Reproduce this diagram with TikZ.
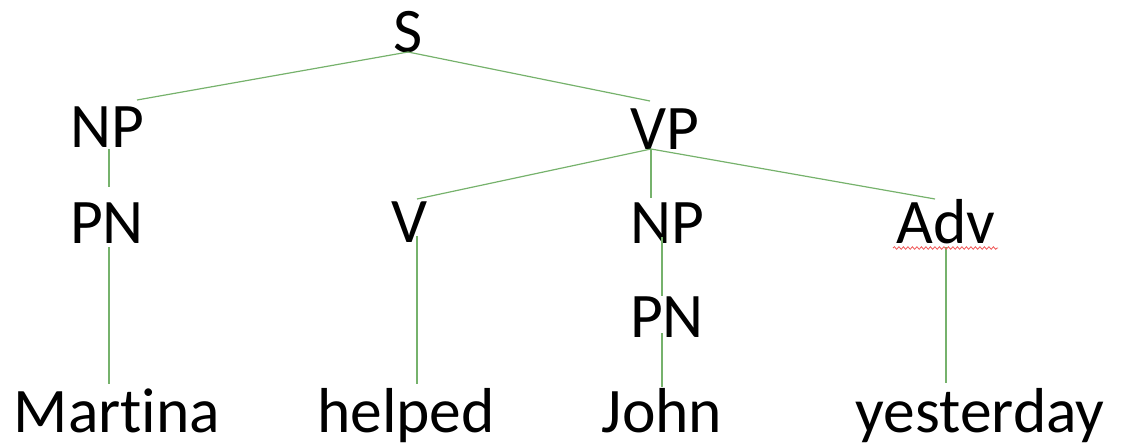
\documentclass[tikz,border=0pt]{standalone}
\usepackage{fontspec}
\setmainfont{Carlito}[Ligatures={TeX,NoCommon}]
\usetikzlibrary{decorations.pathmorphing}
\definecolor{edgegreen}{RGB}{118,178,108}
\definecolor{spellred}{RGB}{240,90,90}
\tikzset{
  lab/.style={anchor=base, inner sep=0pt, font=\fontsize{63.5}{70}\selectfont},
  edgeline/.style={draw=edgegreen, line width=1.2pt},
  wavy/.style={draw=spellred, line width=0.8pt, decorate,
    decoration={snake, amplitude=1.3pt, segment length=4.5pt}}
}
\begin{document}
\begin{tikzpicture}[x=1pt,y=-1pt]
\useasboundingbox (0,0) rectangle (1124,445);
\node[lab] (S) at (408,52) {S};
\node[lab] (NP1) at (107,147) {NP};
\node[lab] (VP) at (665,149) {VP};
\node[lab] (PN1) at (107,243) {PN};
\node[lab] (V) at (410,242) {V};
\node[lab] (NP2) at (667,243) {NP};
\node[lab] (Adv) at (946,243) {Adv};
\node[lab] (PN2) at (667,337) {PN};
\node[lab] (W1) at (117,432) {Martina};
\node[lab] (W2) at (406,432) {helped};
\node[lab] (W3) at (662,432) {John};
\node[lab] (W4) at (980,432) {yesterday};
\draw[edgeline] (S.base) -- ([shift={(30,-47)}]NP1.base);
\draw[edgeline] (S.base) -- ([shift={(-15,-48)}]VP.base);
\draw[edgeline] ([shift={(2,2)}]NP1.base) -- ([shift={(2,-56)}]PN1.base);
\draw[edgeline] ([shift={(2,4)}]PN1.base) -- ([shift={(-8,-48)}]W1.base);
\draw[edgeline] ([shift={(-14,0)}]VP.base) -- ([shift={(7,-43)}]V.base);
\draw[edgeline] ([shift={(-14,0)}]VP.base) -- ([shift={(-16,-45)}]NP2.base);
\draw[edgeline] ([shift={(-14,0)}]VP.base) -- ([shift={(-11,-44)}]Adv.base);
\draw[edgeline] ([shift={(7,-6)}]V.base) -- ([shift={(11,-48)}]W2.base);
\draw[edgeline] ([shift={(-5,-6)}]NP2.base) -- ([shift={(-5,-41)}]PN2.base);
\draw[edgeline] ([shift={(-5,-4)}]PN2.base) -- ([shift={(0,-45)}]W3.base);
\draw[edgeline] ([shift={(0,4)}]Adv.base) -- ([shift={(-34,-49)}]W4.base);
\draw[wavy] ([shift={(-53,5)}]Adv.base) -- ([shift={(52,5)}]Adv.base);
\end{tikzpicture}
\end{document}
